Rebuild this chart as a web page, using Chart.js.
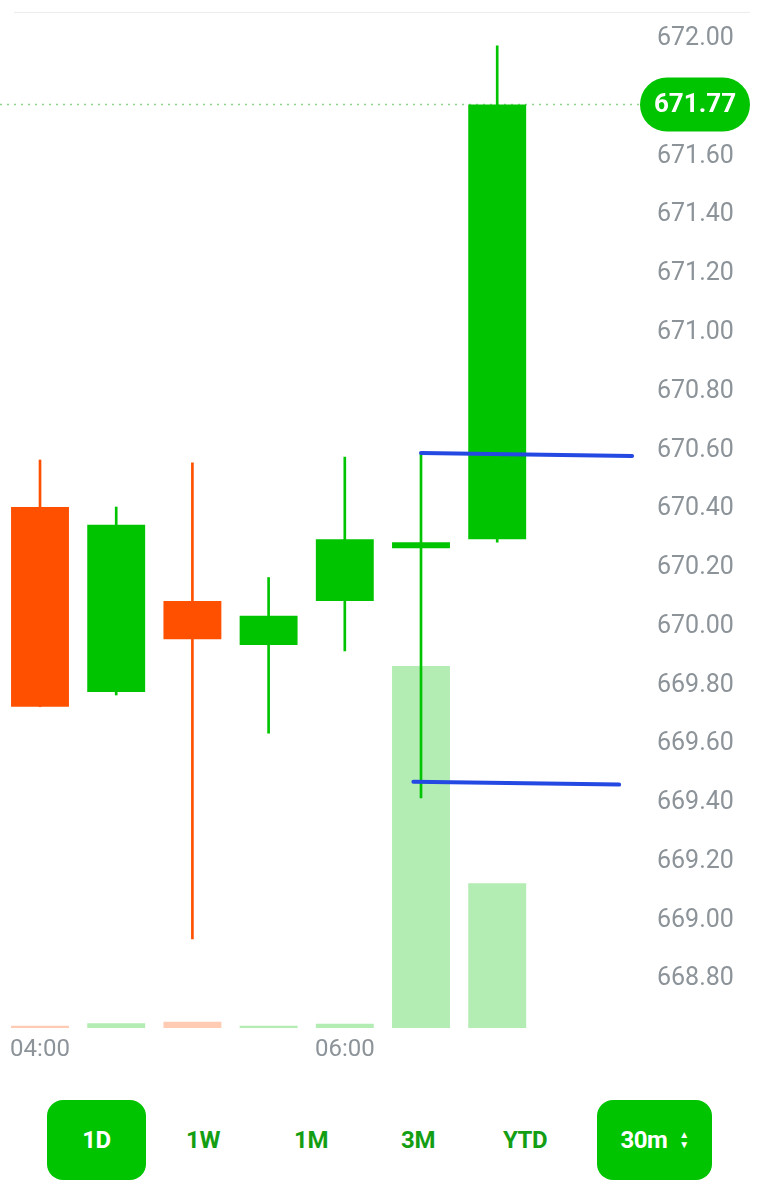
<!DOCTYPE html>
<html>
<head>
<meta charset="utf-8">
<script src="https://cdn.jsdelivr.net/npm/chart.js@4.4.1/dist/chart.umd.min.js"></script>
<style>
  body { margin: 0; background: #fff; font-family: Roboto, "Noto Sans", sans-serif; }
  #wrap { position: relative; width: 761px; height: 1200px; overflow: hidden; }
  #topline { position: absolute; left: 14px; top: 12px; width: 736px; height: 1px; background: #ececec; }
  #box { position: absolute; left: 0; top: 0; width: 761px; height: 1068px; }
  .btn { position: absolute; top: 1100px; height: 80px; line-height: 80px; text-align: center;
         font-weight: 700; font-size: 24px; color: #149e14; letter-spacing: -0.5px; }
  .on { background: #00c400; color: #fff; border-radius: 16px; }
  .arrows { display: inline-block; vertical-align: middle; line-height: 10px; font-size: 10px; margin-left: 12px; margin-top: -4px; }
</style>
</head>
<body>
<div id="wrap">
  <div id="topline"></div>
  <div id="box"><canvas id="chart"></canvas></div>
  <div class="btn on" style="left:47px;width:99px;">1D</div>
  <div class="btn" style="left:163px;width:80px;">1W</div>
  <div class="btn" style="left:271px;width:80px;">1M</div>
  <div class="btn" style="left:378px;width:80px;">3M</div>
  <div class="btn" style="left:485px;width:80px;">YTD</div>
  <div class="btn on" style="left:597px;width:115px;">30m<span class="arrows">&#9650;<br>&#9660;</span></div>
</div>
<script>
// 30 minute candles
const times   = ['04:00', '04:30', '05:00', '05:30', '06:00', '06:30', '07:00'];
const opens   = [670.40, 669.77, 670.08, 669.93, 670.08, 670.26, 670.29];
const closes  = [669.72, 670.34, 669.95, 670.03, 670.29, 670.28, 671.77];
const highs   = [670.56, 670.40, 670.55, 670.16, 670.57, 670.58, 671.97];
const lows    = [669.72, 669.76, 668.93, 669.63, 669.91, 669.41, 670.28];
const volumes = [0.6, 1.3, 1.7, 0.6, 1.2, 100, 40];

const priceTicks = [668.80, 669.00, 669.20, 669.40, 669.60, 669.80, 670.00, 670.20,
                    670.40, 670.60, 670.80, 671.00, 671.20, 671.40, 671.60, 672.00];
const timeTicks = [0, 4];
const lastPrice = 671.77;

// hand drawn trend lines (candle index, price)
const trendUpper = [{ x: 5.0, y: 670.584 }, { x: 7.77, y: 670.574 }];
const trendLower = [{ x: 4.9, y: 669.465 }, { x: 7.6, y: 669.455 }];

const up = '#00c400', down = '#ff5000';
const isUp = opens.map((o, i) => closes[i] >= o);
const candleColors = isUp.map(u => u ? up : down);
const volColors = isUp.map(u => u ? '#b3edb3' : '#ffcbb3');

const priceTag = {
    id: 'priceTag',
    beforeDatasetsDraw(chart) {
        const { ctx, chartArea, scales } = chart;
        const y = scales.y.getPixelForValue(lastPrice);
        ctx.save();
        ctx.setLineDash([2, 5]);
        ctx.strokeStyle = '#8cd68c';
        ctx.lineWidth = 1.5;
        ctx.beginPath();
        ctx.moveTo(chartArea.left, y);
        ctx.lineTo(chartArea.right, y);
        ctx.stroke();
        ctx.restore();
    },
    afterDraw(chart) {
        const { ctx, chartArea, scales } = chart;
        const y = scales.y.getPixelForValue(lastPrice);
        const w = 110, h = 54, x0 = chartArea.right;
        ctx.save();
        ctx.fillStyle = up;
        ctx.beginPath();
        ctx.roundRect(x0, y - h / 2, w, h, h / 2);
        ctx.fill();
        ctx.fillStyle = '#fff';
        ctx.font = 'bold 26px Roboto, sans-serif';
        ctx.textAlign = 'center';
        ctx.textBaseline = 'middle';
        ctx.fillText(lastPrice.toFixed(2), x0 + w / 2, y + 1);
        ctx.restore();
    }
};

const ctx = document.getElementById('chart').getContext('2d');
new Chart(ctx, {
    type: 'bar',
    data: {
        datasets: [
            {
                type: 'line', data: trendUpper, borderColor: '#2449e3', borderWidth: 4,
                pointRadius: 0, borderCapStyle: 'round', yAxisID: 'y'
            },
            {
                type: 'line', data: trendLower, borderColor: '#2449e3', borderWidth: 4,
                pointRadius: 0, borderCapStyle: 'round', yAxisID: 'y'
            },
            {
                label: 'body',
                data: opens.map((o, i) => ({ x: i, y: [Math.min(o, closes[i]), Math.max(o, closes[i])] })),
                backgroundColor: candleColors,
                barPercentage: 0.76, categoryPercentage: 1, grouped: false, yAxisID: 'y'
            },
            {
                label: 'wick',
                data: lows.map((l, i) => ({ x: i, y: [l, highs[i]] })),
                backgroundColor: candleColors,
                barThickness: 2, grouped: false, yAxisID: 'y'
            },
            {
                label: 'volume',
                data: volumes.map((v, i) => ({ x: i, y: v })),
                backgroundColor: volColors,
                barPercentage: 0.76, categoryPercentage: 1, grouped: false, yAxisID: 'yv'
            }
        ]
    },
    options: {
        responsive: true,
        maintainAspectRatio: false,
        animation: false,
        layout: { padding: { top: 12, right: 0, bottom: 0, left: 0 } },
        plugins: { legend: { display: false }, tooltip: { enabled: false } },
        scales: {
            x: {
                type: 'linear',
                min: -0.525,
                max: 7.874,
                offset: false,
                grid: { display: false, drawTicks: false },
                border: { display: false },
                afterBuildTicks: s => { s.ticks = timeTicks.map(v => ({ value: v })); },
                afterFit: s => { s.height = 40; s.paddingLeft = 0; s.paddingRight = 0; },
                ticks: {
                    padding: 8,
                    color: '#8c9399',
                    font: { size: 24, family: 'Roboto' },
                    maxRotation: 0,
                    callback: v => times[v]
                }
            },
            y: {
                type: 'linear',
                position: 'right',
                min: 668.6264,
                max: 672.0851,
                grid: { display: false, drawTicks: false },
                border: { display: false },
                afterBuildTicks: s => { s.ticks = priceTicks.map(v => ({ value: v })); },
                afterFit: s => { s.width = 121; s.paddingTop = 0; s.paddingBottom = 0; },
                ticks: {
                    padding: 17,
                    labelOffset: 2,
                    color: '#8c9399',
                    font: { size: 25, family: 'Roboto' },
                    callback: v => v.toFixed(2)
                }
            },
            yv: {
                type: 'linear',
                display: false,
                min: 0,
                max: 280.7
            }
        }
    },
    plugins: [priceTag]
});
</script>
</body>
</html>
